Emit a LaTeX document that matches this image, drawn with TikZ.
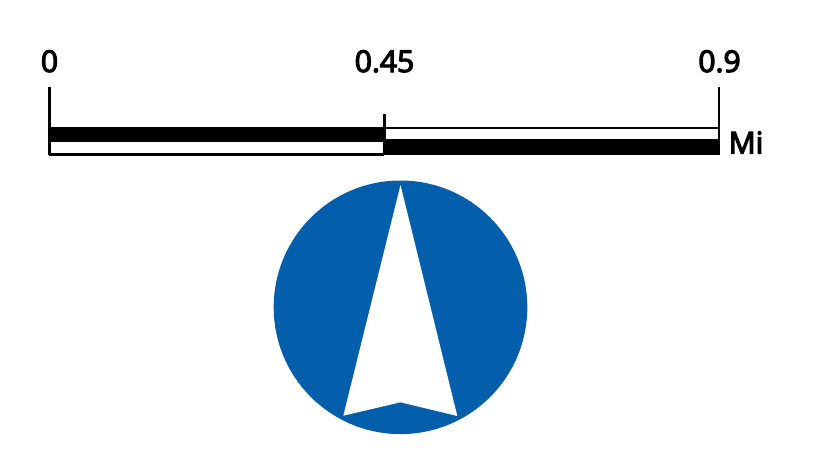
\documentclass[tikz,border=0pt]{standalone}
\usepackage{fontspec}
\setmainfont[FakeBold=4]{Open Sans}
\definecolor{compassblue}{HTML}{035FAB}
\tikzset{
  barline/.style={draw=black,line width=2.4pt},
  barfill/.style={fill=black,draw=none},
  scalelabel/.style={inner sep=0pt,font=\fontsize{30}{32}\selectfont,text=black,anchor=base}
}
\begin{document}
\begin{tikzpicture}[x=1pt,y=-1pt]
\useasboundingbox (0,0) rectangle (829,450);
% scale bar
\fill[barfill] (49,126.7) rectangle (384.5,142.2);
\fill[barfill] (384,139.3) rectangle (720,155.3);
\draw[barline] (384.3,128) -- (719,128);
\draw[barline] (49.3,154.3) -- (384.3,154.3);
\draw[barline] (49.5,87) -- (49.5,155.3);
\draw[barline] (384.5,114) -- (384.5,155.3);
\draw[barline] (719,87) -- (719,155.3);
\node[scalelabel] (a) at (49.5,72) {0};
\node[scalelabel] (b) at (384.5,72) {0.45};
\node[scalelabel] (c) at (719.5,72) {0.9};
\node[scalelabel] (d) at (746,153.5) {Mi};
% compass
\fill[compassblue] (400.5,307.3) circle (126.8);
\fill[white] (400.5,185) -- (457.3,416) -- (400.5,402.3) -- (343.3,415.7) -- cycle;
\end{tikzpicture}
\end{document}
